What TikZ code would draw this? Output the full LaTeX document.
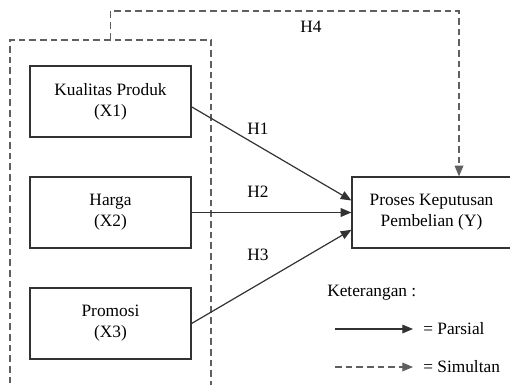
\documentclass[tikz,border=0pt]{standalone}
\usepackage{fontspec}
\setmainfont{Liberation Serif}
\usepackage{tikz}
\usetikzlibrary{arrows.meta,positioning}
\definecolor{lineclr}{RGB}{50,50,50}
\definecolor{dashclr}{RGB}{95,95,95}
\tikzstyle{tip}=[-{Triangle[length=8pt,width=6.5pt]}]
\tikzstyle{parsial}=[tip,draw=lineclr,line width=0.9pt]
\tikzstyle{simul}=[tip,draw=dashclr,line width=0.9pt,dash pattern=on 5pt off 3pt]

\begin{document}
\begin{tikzpicture}[x=0.75pt,y=-0.75pt,
font=\fontsize{13pt}{15.75pt}\selectfont,
block/.style={rectangle,draw=lineclr,line width=0.9pt,
minimum width=120.75pt,minimum height=53.25pt,
align=center,inner sep=2pt},
]
\useasboundingbox (0,0) rectangle (510,385);
\clip (0,0) rectangle (510,385);
% variabel bebas
\node[block] (x1) at (110.5,101.5) {Kualitas Produk\\(X1)};
\node[block] (x2) at (110.5,212.5) {Harga\\(X2)};
\node[block] (x3) at (110.5,323.5) {Promosi\\(X3)};
% variabel terikat
\node[block,minimum width=119.25pt] (y) at (431.5,212.5) {Proses Keputusan\\Pembelian (Y)};
% kotak simultan
\node[draw=dashclr,line width=0.9pt,dash pattern=on 5pt off 3pt,
minimum width=150.75pt,minimum height=270pt] (grp) at (110.5,220) {};
\coordinate (h4top) at (459,11);
\draw[simul] (grp.north) |- (h4top) -- (h4top |- y.north);
\node (h4) at (311,27) {H4};
% parsial
\draw[parsial] ([yshift=-4pt]x1.east) -- ([yshift=9pt]y.west);
\draw[parsial] (x2.east) -- (y.west);
\draw[parsial] (x3.east) -- ([yshift=-13pt]y.west);
\node (h1) at (258,129) {H1};
\node (h2) at (258,192) {H2};
\node (h3) at (258,255) {H3};
% keterangan
\node[anchor=west,inner sep=0pt] (ket) at (327,293) {Keterangan :};
\coordinate (ps) at (335,329);
\coordinate (pe) at (413,329);
\coordinate (ss) at (335,367);
\coordinate (se) at (413,367);
\draw[parsial] (ps) -- (pe);
\draw[simul] (ss) -- (se);
\node[anchor=west,inner sep=0pt] (lp) at (423,329) {= Parsial};
\node[anchor=west,inner sep=0pt] (ls) at (423,367) {= Simultan};
\end{tikzpicture}
\end{document}
